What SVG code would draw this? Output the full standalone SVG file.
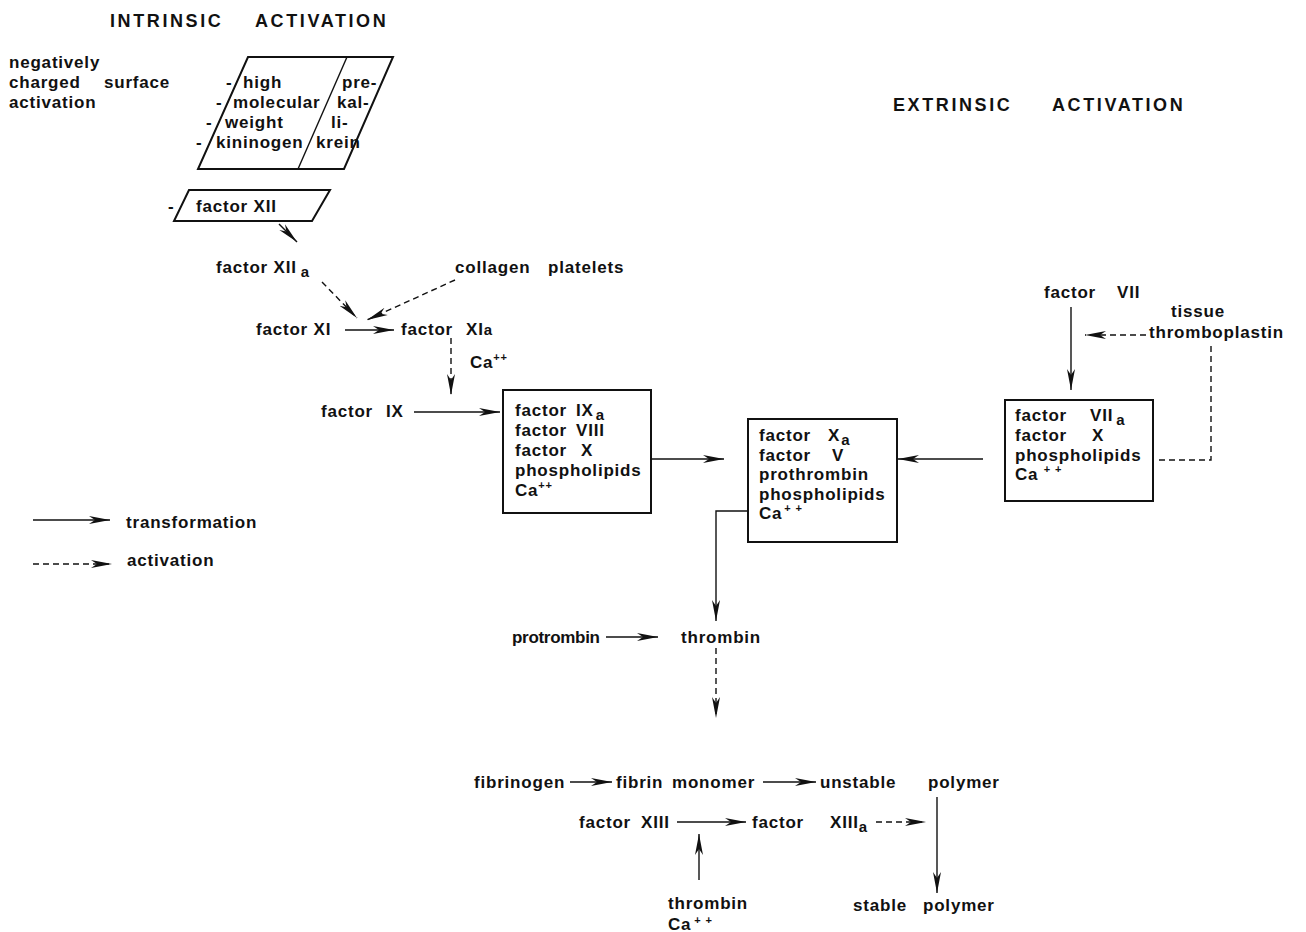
<svg xmlns="http://www.w3.org/2000/svg" width="1306" height="932" viewBox="0 0 1306 932">
<style>
text{font-family:"Liberation Sans",Arial,sans-serif;font-weight:bold;font-size:17px;letter-spacing:0.8px;fill:#111}
.title{font-size:18px;letter-spacing:2.6px}
.sub{font-size:15px}
.sup{font-size:11px}
.box{fill:#fff;stroke:#111;stroke-width:2}
.ln{fill:none;stroke:#111;stroke-width:1.4}
.arr{marker-end:url(#ah)}
.dash{stroke-dasharray:6 4}
</style>
<defs>
<marker id="ah" markerUnits="userSpaceOnUse" markerWidth="22" markerHeight="10" refX="21" refY="5" orient="auto">
<path d="M0,1 L21,5 L0,9 L6,5 Z" fill="#111"/>
</marker>
</defs>
<rect width="1306" height="932" fill="#fff"/>

<g id="titles">
<text class="title" x="110" y="27">INTRINSIC</text>
<text class="title" x="255" y="27">ACTIVATION</text>
<text class="title" x="893" y="111">EXTRINSIC</text>
<text class="title" x="1052" y="111">ACTIVATION</text>
</g>

<g id="surface-label">
<text x="9" y="68">negatively</text>
<text x="9" y="88">charged</text>
<text x="104" y="88">surface</text>
<text x="9" y="108">activation</text>
</g>

<g id="hmwk-prekallikrein">
<polygon class="box" points="248,57 393,57 344,169 198,169"/>
<line class="ln" x1="347" y1="57" x2="298" y2="169" stroke-width="2"/>
<text x="226" y="88">-</text><text x="243" y="88">high</text>
<text x="216" y="108">-</text><text x="233" y="108">molecular</text>
<text x="206" y="128">-</text><text x="225" y="128">weight</text>
<text x="196" y="148">-</text><text x="216" y="148">kininogen</text>
<text x="342" y="88">pre-</text>
<text x="337" y="108">kal-</text>
<text x="331" y="128">li-</text>
<text x="316" y="148">krein</text>
</g>

<g id="factor-XII">
<polygon class="box" points="189,190 330,190 312,221 174,221"/>
<text x="168" y="212">-</text>
<text x="196" y="212">factor XII</text>
</g>

<g id="factor-XIIa">
<text x="216" y="273">factor XII<tspan class="sub" dx="4" dy="4">a</tspan></text>
</g>
<g id="collagen-platelets">
<text x="455" y="273">collagen</text>
<text x="548" y="273">platelets</text>
</g>
<g id="factor-XI"><text x="256" y="335">factor XI</text></g>
<g id="factor-XIa"><text x="401" y="335">factor <tspan x="466">XI</tspan><tspan class="sub">a</tspan></text></g>
<g id="ca-1"><text x="470" y="368">Ca<tspan class="sup" dy="-7">++</tspan></text></g>
<g id="factor-IX"><text x="321" y="417">factor <tspan x="386">IX</tspan></text></g>

<g id="complex-IXa">
<rect class="box" x="503" y="390" width="148" height="123"/>
<text x="515" y="416">factor <tspan x="576">IX</tspan><tspan class="sub" dx="2" dy="4">a</tspan></text>
<text x="515" y="436">factor <tspan x="576">VIII</tspan></text>
<text x="515" y="456">factor <tspan x="581">X</tspan></text>
<text x="515" y="476">phospholipids</text>
<text x="515" y="496">Ca<tspan class="sup" dy="-7">++</tspan></text>
</g>

<g id="complex-Xa">
<rect class="box" x="748" y="419" width="149" height="123"/>
<text x="759" y="441">factor <tspan x="828">X</tspan><tspan class="sub" dx="1" dy="4">a</tspan></text>
<text x="759" y="461">factor <tspan x="832">V</tspan></text>
<text x="759" y="480">prothrombin</text>
<text x="759" y="500">phospholipids</text>
<text x="759" y="519">Ca<tspan class="sup" dy="-7" dx="2">+ +</tspan></text>
</g>

<g id="complex-VIIa">
<rect class="box" x="1005" y="400" width="148" height="101"/>
<text x="1015" y="421">factor <tspan x="1090">VII</tspan><tspan class="sub" dx="3" dy="4">a</tspan></text>
<text x="1015" y="441">factor <tspan x="1092">X</tspan></text>
<text x="1015" y="461">phospholipids</text>
<text x="1015" y="480">Ca <tspan class="sup" dy="-7">+ +</tspan></text>
</g>

<g id="factor-VII"><text x="1044" y="298">factor <tspan x="1117">VII</tspan></text></g>
<g id="tissue-thromboplastin">
<text x="1171" y="317">tissue</text>
<text x="1149" y="338">thromboplastin</text>
</g>

<g id="protrombin"><text x="512" y="643" style="letter-spacing:-0.3px">protrombin</text></g>
<g id="thrombin"><text x="681" y="643">thrombin</text></g>
<g id="fibrinogen"><text x="474" y="788">fibrinogen</text></g>
<g id="fibrin-monomer"><text x="616" y="788">fibrin <tspan x="672">monomer</tspan></text></g>
<g id="unstable-polymer"><text x="820" y="788">unstable <tspan x="928">polymer</tspan></text></g>
<g id="factor-XIII"><text x="579" y="828">factor <tspan x="641">XIII</tspan></text></g>
<g id="factor-XIIIa"><text x="752" y="828">factor <tspan x="830">XIII</tspan><tspan class="sub" dy="4">a</tspan></text></g>
<g id="thrombin-ca"><text x="668" y="909">thrombin</text><text x="668" y="930">Ca<tspan class="sup" dy="-6" dx="3">+ +</tspan></text></g>
<g id="stable-polymer"><text x="853" y="911">stable <tspan x="923">polymer</tspan></text></g>

<g id="legend">
<line class="ln arr" x1="33" y1="520" x2="110" y2="520"/>
<text x="126" y="528">transformation</text>
<line class="ln arr dash" x1="33" y1="564" x2="112" y2="564"/>
<text x="127" y="566">activation</text>
</g>

<g id="connectors">
<line class="ln arr" x1="279" y1="224" x2="297" y2="242"/>
<line class="ln arr dash" x1="322" y1="282" x2="357" y2="318"/>
<line class="ln arr dash" x1="455" y1="280" x2="367" y2="320"/>
<line class="ln arr" x1="345" y1="330" x2="394" y2="330"/>
<line class="ln arr dash" x1="451" y1="338" x2="451" y2="395"/>
<line class="ln arr" x1="414" y1="412" x2="500" y2="412"/>
<line class="ln arr" x1="651" y1="459" x2="724" y2="459"/>
<line class="ln arr" x1="983" y1="459" x2="898" y2="459"/>
<line class="ln arr" x1="1071" y1="307" x2="1071" y2="390"/>
<line class="ln arr dash" x1="1146" y1="335" x2="1085" y2="335"/>
<polyline class="ln dash" points="1211,346 1211,460 1155,460"/>
<polyline class="ln arr" points="748,511 716,511 716,621"/>
<line class="ln arr" x1="606" y1="637" x2="658" y2="637"/>
<line class="ln arr dash" x1="716" y1="648" x2="716" y2="718"/>
<line class="ln arr" x1="570" y1="782" x2="612" y2="782"/>
<line class="ln arr" x1="763" y1="782" x2="816" y2="782"/>
<line class="ln arr" x1="677" y1="822" x2="746" y2="822"/>
<line class="ln arr dash" x1="876" y1="822" x2="926" y2="822"/>
<line class="ln arr" x1="937" y1="797" x2="937" y2="893"/>
<line class="ln arr" x1="699" y1="880" x2="699" y2="834"/>
</g>
</svg>
